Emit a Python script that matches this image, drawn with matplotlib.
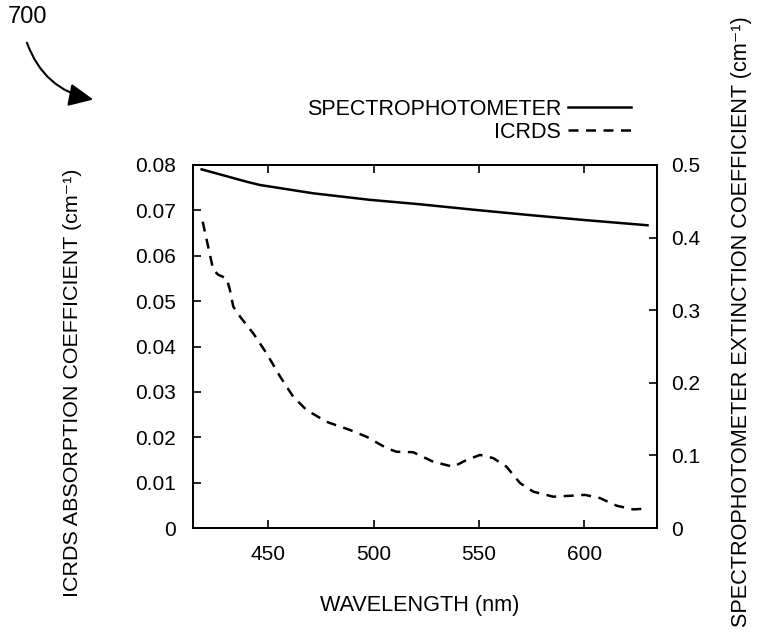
import matplotlib
matplotlib.use("Agg")
import matplotlib.pyplot as plt
from matplotlib.patches import FancyArrowPatch

plt.rcParams['font.family'] = ['Liberation Sans', 'DejaVu Sans']

# Spectrophotometer extinction coefficient (right axis, cm^-1)
spec_wl = [418.4, 439.7, 446.0, 471.4, 498.3, 522.0, 548.9, 574.2, 600.0, 630.0]
spec_val = [0.494, 0.477, 0.4725, 0.461, 0.452, 0.4459, 0.438, 0.431, 0.4242, 0.417]

# ICRDS absorption coefficient (left axis, cm^-1)
icrds_wl = [418.9, 421.5, 423.9, 426.3, 430.3, 431.8, 433.4, 436.6, 442.9, 449.2,
            455.6, 461.9, 468.2, 477.7, 488.8, 496.7, 506.2, 510.9, 518.8, 528.3,
            537.8, 544.2, 550.5, 556.8, 563.1, 569.5, 575.8, 585.3, 593.2, 600.3,
            607.4, 615.4, 623.2, 630.4]
icrds_val = [0.0675, 0.0620, 0.0569, 0.0558, 0.0550, 0.0525, 0.0488, 0.0466, 0.0429, 0.0385,
             0.0334, 0.0289, 0.0260, 0.0234, 0.0216, 0.0201, 0.0176, 0.0168, 0.0167, 0.0146,
             0.0135, 0.0150, 0.0161, 0.0154, 0.0135, 0.0099, 0.0080, 0.0069, 0.0071, 0.0073,
             0.0066, 0.0049, 0.0041, 0.0043]

x_ticks = [450, 500, 550, 600]
left_ticks = [0, 0.01, 0.02, 0.03, 0.04, 0.05, 0.06, 0.07, 0.08]
left_labels = ['0', '0.01', '0.02', '0.03', '0.04', '0.05', '0.06', '0.07', '0.08']
right_ticks = [0, 0.1, 0.2, 0.3, 0.4, 0.5]
right_labels = ['0', '0.1', '0.2', '0.3', '0.4', '0.5']

W, H = 764, 638
fig = plt.figure(figsize=(W / 100, H / 100), dpi=100)
ax = fig.add_axes([193 / W, 1 - 528 / H, (657 - 193) / W, (528 - 165) / H])
ax2 = ax.twinx()

tfs = 15
l2, = ax2.plot(spec_wl, spec_val, color='black', lw=1.8, label='SPECTROPHOTOMETER')
l1, = ax.plot(icrds_wl, icrds_val, color='black', lw=1.8, ls=(0, (4, 3)), label='ICRDS')

ax.set_xlim(414.3, 634.5)
ax.set_ylim(0, 0.08)
ax2.set_ylim(0, 0.5)

ax.set_xticks(x_ticks)
ax.set_xticklabels([str(t) for t in x_ticks], fontsize=tfs)
ax.set_yticks(left_ticks)
ax.set_yticklabels(left_labels, fontsize=tfs)
ax2.set_yticks(right_ticks)
ax2.set_yticklabels(right_labels, fontsize=tfs)

ax.tick_params(axis='x', direction='in', top=True, length=6, width=1.2, pad=12)
ax.tick_params(axis='y', direction='in', length=6, width=1.2, pad=12)
ax2.tick_params(axis='y', direction='in', length=6, width=1.2, pad=10)
for a in (ax, ax2):
    for s in a.spines.values():
        s.set_linewidth(1.4)

renderer = fig.canvas.get_renderer()


def fit_text(t, target_px, horizontal=True):
    fs = t.get_fontsize()
    bb = t.get_window_extent(renderer)
    cur = bb.width if horizontal else bb.height
    t.set_fontsize(fs * target_px / cur)


xl = fig.text(420 / W, 1 - 605 / H, 'WAVELENGTH (nm)', fontsize=16, ha='center', va='center')
fit_text(xl, 200)
yl = fig.text(73 / W, 1 - 383 / H, 'ICRDS ABSORPTION COEFFICIENT (cm⁻¹)', fontsize=16,
              rotation=90, ha='center', va='center')
fit_text(yl, 429, horizontal=False)
yr = fig.text(742 / W, 1 - 322 / H, 'SPECTROPHOTOMETER EXTINCTION COEFFICIENT (cm⁻¹)', fontsize=16,
              rotation=90, ha='center', va='center')
fit_text(yr, 612, horizontal=False)

leg = fig.legend(handles=[l2, l1], loc='upper right', bbox_to_anchor=(642 / W, 1 - 88 / H),
                 frameon=False, markerfirst=False, fontsize=15.5, handlelength=2.95,
                 handletextpad=0.3, labelspacing=0.1, borderpad=0)

fig.text(8 / W, 1 - 17 / H, '700', fontsize=17, ha='left', va='center')
arr = FancyArrowPatch((26 / W, 1 - 40 / H), (96 / W, 1 - 100 / H), transform=fig.transFigure,
                      connectionstyle='arc3,rad=0.3', arrowstyle='-|>,head_length=15,head_width=7',
                      color='black', lw=1.5)
fig.add_artist(arr)

fig.savefig('out.png', dpi=100)
